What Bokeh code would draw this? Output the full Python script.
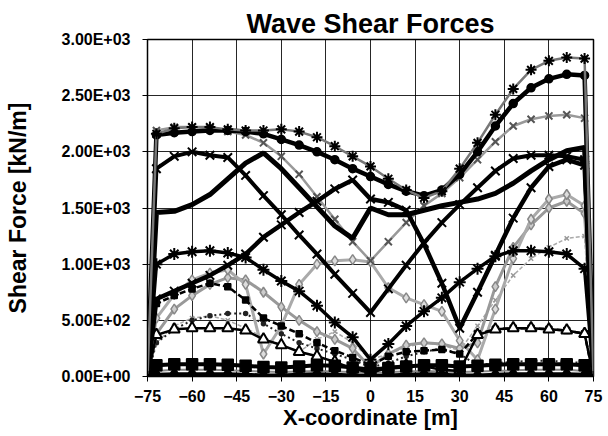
from bokeh.plotting import figure
from bokeh.models import FixedTicker, Range1d
from bokeh.embed import file_html
from bokeh.resources import INLINE

title_text = "Wave Shear Forces"
x_label = "X-coordinate [m]"
y_label = "Shear Force [kN/m]"

x_ticks = [-75, -60, -45, -30, -15, 0, 15, 30, 45, 60, 75]
y_ticks = [0, 500, 1000, 1500, 2000, 2500, 3000]
y_tick_labels = ["0.00E+00", "5.00E+02", "1.00E+03", "1.50E+03", "2.00E+03", "2.50E+03", "3.00E+03"]

x_m = [-75, -72, -66, -60, -54, -48, -42, -36, -30, -24, -18, -12, -6, 0,
       6, 12, 18, 24, 30, 36, 42, 48, 54, 60, 66, 72, 75]

top_cross = [0, 2160, 2210, 2220, 2220, 2200, 2190, 2190, 2200, 2180, 2130, 2050, 1960, 1870,
             1760, 1660, 1590, 1650, 1850, 2080, 2330, 2560, 2730, 2810, 2840, 2830, 0]
thick_circle = [0, 2150, 2170, 2180, 2190, 2190, 2180, 2160, 2110, 2060, 2000, 1930, 1850, 1780,
                1710, 1650, 1610, 1660, 1800, 2000, 2230, 2430, 2570, 2650, 2690, 2680, 0]
gray_star = [0, 2190, 2220, 2220, 2210, 2180, 2150, 2080, 1960, 1800, 1600, 1400, 1200, 1030,
             1200, 1370, 1520, 1630, 1770, 1930, 2090, 2230, 2290, 2320, 2330, 2300, 0]
star_v0 = [0, 1850, 1960, 2000, 1970, 1950, 1790, 1610, 1440, 1260, 1090, 910, 740, 570,
           780, 990, 1190, 1370, 1530, 1680, 1830, 1940, 1970, 1970, 1960, 1930, 0]
s_curve = [0, 1460, 1470, 1530, 1620, 1760, 1900, 1990, 1850, 1680, 1510, 1340, 1230, 1500,
           1440, 1440, 1480, 1520, 1550, 1580, 1630, 1720, 1830, 1930, 2010, 2040, 0]
cross_v30 = [0, 690, 760, 830, 900, 990, 1090, 1240, 1350, 1460, 1560, 1670, 1750, 1580,
             1550, 1480, 1180, 830, 430, 750, 1080, 1410, 1680, 1870, 1930, 1880, 0]
star_1100 = [0, 1000, 1090, 1110, 1120, 1100, 1060, 950, 850, 760, 630, 480, 350, 150,
             290, 450, 580, 700, 840, 960, 1070, 1120, 1120, 1110, 1090, 960, 0]
gray_diam_a = [0, 520, 730, 860, 920, 950, 820, 200, 450, 820, 1000, 1030, 1040, 1020,
               790, 700, 640, 580, 320, 150, 600, 1050, 1400, 1580, 1620, 1520, 0]
gray_diam_b = [0, 380, 600, 720, 820, 880, 860, 750, 620, 500, 400, 330, 250, 80,
               200, 280, 300, 290, 250, 300, 800, 1150, 1350, 1500, 1560, 1450, 0]
light_dash = [0, 300, 450, 520, 540, 500, 430, 350, 280, 220, 330, 400, 300, 150,
              200, 260, 300, 280, 230, 450, 680, 900, 1050, 1150, 1230, 1250, 0]
black_dot = [0, 300, 420, 500, 540, 560, 560, 470, 380, 300, 250, 200, 150, 80,
             120, 180, 220, 250, 200, 100, 120, 130, 140, 140, 130, 120, 0]
black_sq_mid = [0, 650, 720, 780, 830, 800, 680, 520, 450, 380, 300, 230, 170, 100,
                180, 220, 230, 240, 200, 380, 420, 430, 430, 420, 410, 380, 0]
triangles = [0, 370, 420, 430, 430, 430, 410, 330, 280, 220, 180, 130, 70, 30,
             80, 100, 90, 60, 50, 370, 420, 430, 430, 420, 410, 380, 0]
gray_low = [0, 50, 60, 60, 60, 55, 50, 45, 40, 45, 50, 45, 40, 30,
            40, 45, 50, 45, 40, 45, 50, 55, 60, 60, 60, 50, 0]
black_sq_low = [0, 100, 110, 110, 110, 105, 95, 85, 80, 90, 100, 95, 80, 60,
                75, 90, 100, 100, 90, 95, 105, 110, 110, 110, 110, 100, 0]
black_diam_low = [0, 15, 20, 20, 20, 20, 15, 10, 10, 15, 20, 15, 10, 5,
                  10, 15, 20, 15, 10, 10, 15, 20, 20, 20, 20, 15, 0]

FONT = "Liberation Sans"

p = figure(width=608, height=436, output_backend="svg", toolbar_location=None,
           x_range=Range1d(-75, 75), y_range=Range1d(0, 3000),
           min_border_left=147, min_border_right=15, min_border_top=39, min_border_bottom=60)
p.background_fill_color = "white"
p.border_fill_color = "white"
p.outline_line_color = "black"
p.outline_line_width = 1.5

p.title.text = title_text
p.title.text_font = FONT
p.title.text_font_size = "27px"
p.title.text_font_style = "bold"
p.title.text_color = "black"
p.title.align = "center"
p.title.offset = 14
p.title.standoff = 2

for ax in (p.xaxis[0], p.yaxis[0]):
    ax.axis_line_color = "black"
    ax.major_tick_line_color = "black"
    ax.major_tick_out = 5
    ax.major_tick_in = 0
    ax.minor_tick_line_color = None
    ax.major_label_text_font = FONT
    ax.major_label_text_font_size = "16px"
    ax.major_label_text_font_style = "bold"
    ax.major_label_text_color = "black"
    ax.axis_label_text_font = FONT
    ax.axis_label_text_font_style = "bold"
    ax.axis_label_text_color = "black"

p.xaxis.axis_label_text_font_size = "22px"
p.yaxis.axis_label_text_font_size = "23px"
p.xaxis.ticker = FixedTicker(ticks=x_ticks)
p.yaxis.ticker = FixedTicker(ticks=y_ticks)
p.yaxis.major_label_overrides = {t: l for t, l in zip(y_ticks, y_tick_labels)}
p.xaxis.axis_label = x_label
p.yaxis.axis_label = y_label
p.xaxis.major_label_standoff = 8
p.xaxis.axis_label_standoff = 0
p.yaxis.major_label_standoff = 12
p.yaxis.axis_label_standoff = 28

p.xgrid.grid_line_color = "black"
p.ygrid.grid_line_color = "black"
p.xgrid.grid_line_width = 1
p.ygrid.grid_line_width = 1
p.xgrid.grid_line_alpha = 0.85
p.ygrid.grid_line_alpha = 0.85

def series(vals, line_color, lw, marker, m_size, m_line, m_fill, dash="solid", mlw=1.5):
    p.line(x_m, vals, line_color=line_color, line_width=lw, line_dash=dash)
    if marker:
        p.scatter(x_m, vals, marker=marker, size=m_size, line_color=m_line,
                  fill_color=m_fill, line_width=mlw)

# light / gray series first, black on top
series(light_dash, "#aaaaaa", 1.5, "x", 6, "#999999", None, dash="4 2")
series(gray_low, "#888888", 2, "circle", 6, "#888888", "#cccccc")
series(black_dot, "#222222", 2, "circle", 4, "#222222", "#222222", dash="2 3")
series(gray_diam_b, "#999999", 3, "diamond", 10, "#888888", "#cccccc")
series(gray_diam_a, "#aaaaaa", 3, "diamond", 10, "#888888", "#dddddd")
series(gray_star, "#999999", 2.5, "x", 10, "#555555", None, mlw=2)
series(black_sq_mid, "black", 2.5, "square", 6, "black", "black", dash="6 3")
series(triangles, "black", 2.5, "triangle", 11, "black", "white", mlw=2)
series(black_sq_low, "black", 4, "square", 11, "black", "black")
series(black_diam_low, "black", 4, "diamond", 13, "black", "black")
series(star_1100, "black", 3.5, "asterisk", 12, "black", None, mlw=2)
series(cross_v30, "black", 4.5, "x", 12, "black", None, mlw=2)
series(star_v0, "black", 4, "x", 12, "black", None, mlw=2)
series(s_curve, "black", 5, None, 0, None, None)
series(thick_circle, "black", 4.5, "circle", 8, "black", "black")
series(top_cross, "#777777", 2.5, "asterisk", 11, "black", None, mlw=2)

open("out.html", "w").write(file_html(p, INLINE))
